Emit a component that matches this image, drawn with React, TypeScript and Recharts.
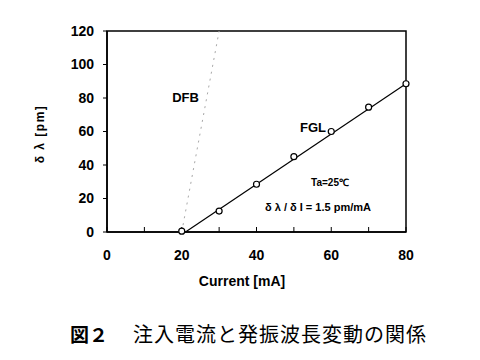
import React from 'react';
import { ComposedChart, XAxis, YAxis, Line, Scatter, ReferenceArea } from 'recharts';

const current = [20, 30, 40, 50, 60, 70, 80];
const fglShift = [0.5, 12.5, 28.5, 45, 60, 74.5, 88.5];
const fitCurrent = [21, 80];
const fitShift = [0, 88.5];
const dfbCurrent = [20, 30];
const dfbShift = [0, 120];
const xTicks = [0, 10, 20, 30, 40, 50, 60, 70, 80];
const yTicks = [0, 20, 40, 60, 80, 100, 120];

const fglData = current.map((i, k) => ({ i, v: fglShift[k] }));
const fitData = fitCurrent.map((i, k) => ({ i, v: fitShift[k] }));
const dfbData = dfbCurrent.map((i, k) => ({ i, v: dfbShift[k] }));

const tickFont = { fontFamily: 'Liberation Sans, Arial, sans-serif', fontSize: 14, fontWeight: 700, fill: '#000' };

const label = (text: string, x: number, y: number, size: number, extra: React.CSSProperties = {}) => (
  <div
    style={{
      position: 'absolute',
      left: x,
      top: y,
      transform: 'translate(-50%, -50%)',
      whiteSpace: 'nowrap',
      fontFamily: 'Liberation Sans, Arial, sans-serif',
      fontWeight: 700,
      fontSize: size,
      lineHeight: 1,
      color: '#000',
      ...extra,
    }}
  >
    {text}
  </div>
);

export default function App() {
  return (
    <div style={{ position: 'absolute', left: 0, top: 0, width: 480, height: 360, background: '#fff' }}>
      <ComposedChart width={480} height={360} margin={{ top: 31, right: 74, left: 57, bottom: 98 }}>
        <XAxis
          dataKey="i"
          type="number"
          domain={[0, 80]}
          ticks={xTicks}
          interval={0}
          tickFormatter={(v: number) => (v % 20 === 0 ? String(v) : '')}
          tick={tickFont}
          tickSize={-5}
          tickMargin={23}
          height={30}
          axisLine={{ stroke: '#000', strokeWidth: 1.5 }}
          tickLine={{ stroke: '#000', strokeWidth: 1 }}
        />
        <YAxis
          dataKey="v"
          type="number"
          domain={[0, 120]}
          ticks={yTicks}
          interval={0}
          tick={tickFont}
          tickSize={4}
          tickMargin={9}
          width={50}
          axisLine={{ stroke: '#000', strokeWidth: 1.5 }}
          tickLine={{ stroke: '#000', strokeWidth: 1 }}
        />
        <ReferenceArea x1={0} x2={80} y1={0} y2={120} fill="none" stroke="#000" strokeWidth={1.5} />
        <Line
          data={dfbData}
          dataKey="v"
          stroke="#a8a8a8"
          strokeWidth={1}
          strokeDasharray="2 5"
          dot={false}
          isAnimationActive={false}
        />
        <Line
          data={fitData}
          dataKey="v"
          stroke="#000"
          strokeWidth={1.2}
          dot={false}
          isAnimationActive={false}
        />
        <Scatter
          data={fglData}
          dataKey="v"
          fill="#fff"
          stroke="#000"
          strokeWidth={1.2}
          shape={(p: any) => <circle cx={p.cx} cy={p.cy} r={3} fill="#fff" stroke="#000" strokeWidth={1.2} />}
          isAnimationActive={false}
        />
      </ComposedChart>
      {label('DFB', 185.5, 97, 13)}
      {label('FGL', 313, 127, 13)}
      {label('Ta=25℃', 330, 183, 10)}
      {label('δ λ / δ I = 1.5  pm/mA', 318, 207, 11)}
      {label('Current [mA]', 242, 281, 14)}
      {label('δ λ   [pm]', 40, 134, 12, { transform: 'translate(-50%, -50%) rotate(-90deg)', letterSpacing: 1.5 })}
      <div
        style={{
          position: 'absolute',
          left: 70,
          top: 324,
          fontFamily: 'Noto Sans CJK JP',
          fontWeight: 700,
          fontSize: 19,
          lineHeight: '19px',
          whiteSpace: 'nowrap',
          color: '#000',
        }}
      >
        図２
      </div>
      <div
        style={{
          position: 'absolute',
          left: 133,
          top: 324,
          fontFamily: 'Noto Sans CJK JP',
          fontWeight: 400,
          fontSize: 20,
          lineHeight: '20px',
          letterSpacing: 1,
          whiteSpace: 'nowrap',
          color: '#000',
        }}
      >
        注入電流と発振波長変動の関係
      </div>
    </div>
  );
}
